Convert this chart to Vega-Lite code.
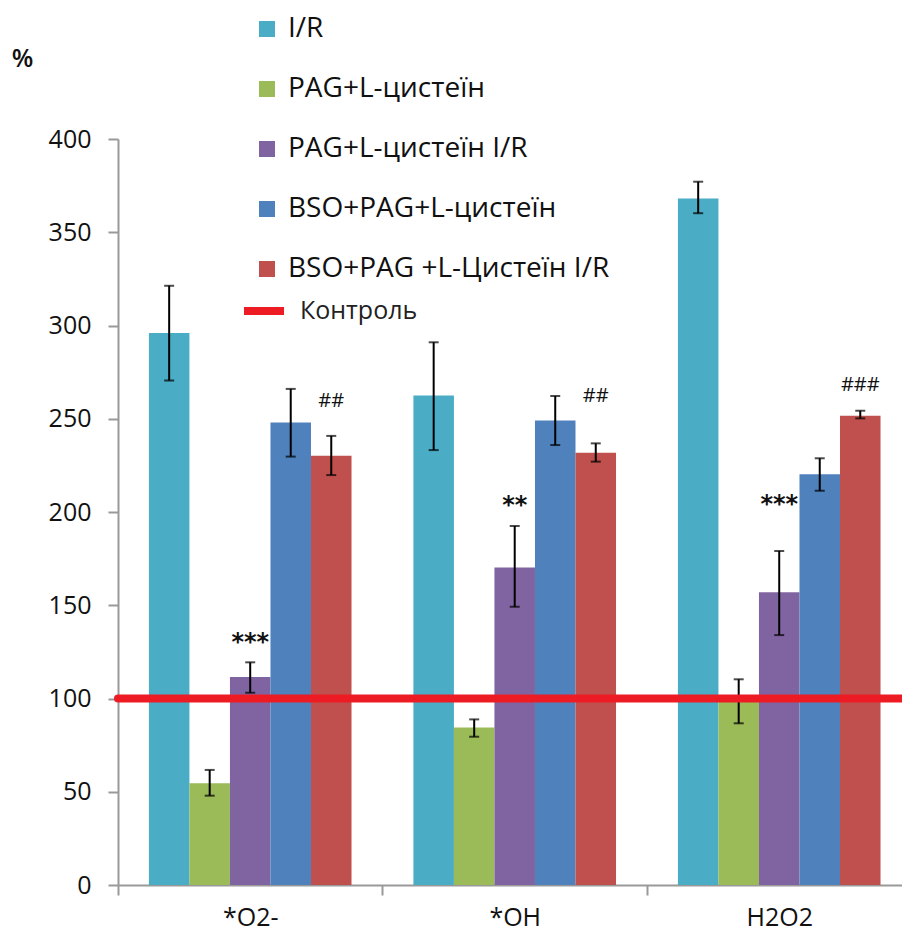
{
  "$schema": "https://vega.github.io/schema/vega-lite/v6.json",
  "width": 784,
  "height": 746,
  "autosize": {"type": "none"},
  "padding": {"left": 118, "top": 139, "right": 0, "bottom": 50},
  "background": "white",
  "config": {
    "view": {"stroke": null},
    "font": "Open Sans",
    "axis": {"labelFont": "Open Sans", "titleFont": "Open Sans"},
    "legend": {"labelFont": "Open Sans"}
  },
  "datasets": {
    "bars": [
      {"cat": "*O2-", "series": "I/R", "value": 296, "lo": 270.5, "hi": 321.3},
      {"cat": "*O2-", "series": "PAG+L-цистеїн", "value": 54.5, "lo": 47.9, "hi": 61.7},
      {"cat": "*O2-", "series": "PAG+L-цистеїн I/R", "value": 111.5, "lo": 103.1, "hi": 119.4},
      {"cat": "*O2-", "series": "BSO+PAG+L-цистеїн", "value": 248, "lo": 229.7, "hi": 266},
      {"cat": "*O2-", "series": "BSO+PAG +L-Цистеїн I/R", "value": 230.2, "lo": 219.8, "hi": 240.8},
      {"cat": "*OH", "series": "I/R", "value": 262.4, "lo": 233.2, "hi": 291},
      {"cat": "*OH", "series": "PAG+L-цистеїн", "value": 84.4, "lo": 79.5, "hi": 88.8},
      {"cat": "*OH", "series": "PAG+L-цистеїн I/R", "value": 170.3, "lo": 149.2, "hi": 192.5},
      {"cat": "*OH", "series": "BSO+PAG+L-цистеїн", "value": 249, "lo": 235.9, "hi": 262.2},
      {"cat": "*OH", "series": "BSO+PAG +L-Цистеїн I/R", "value": 231.8, "lo": 227, "hi": 236.8},
      {"cat": "H2O2", "series": "I/R", "value": 368.1, "lo": 360.2, "hi": 377.1},
      {"cat": "H2O2", "series": "PAG+L-цистеїн", "value": 98.5, "lo": 86.7, "hi": 110.3},
      {"cat": "H2O2", "series": "PAG+L-цистеїн I/R", "value": 157, "lo": 134, "hi": 179.1},
      {"cat": "H2O2", "series": "BSO+PAG+L-цистеїн", "value": 220.2, "lo": 211.4, "hi": 228.8},
      {"cat": "H2O2", "series": "BSO+PAG +L-Цистеїн I/R", "value": 251.6, "lo": 250.2, "hi": 254.3}
    ],
    "notes": [
      {"cat": "*O2-", "series": "PAG+L-цистеїн I/R", "label": "***", "kind": "star", "pos": 130},
      {"cat": "*O2-", "series": "BSO+PAG +L-Цистеїн I/R", "label": "##", "kind": "hash", "pos": 259.5},
      {"cat": "*OH", "series": "PAG+L-цистеїн I/R", "label": "**", "kind": "star", "pos": 203},
      {"cat": "*OH", "series": "BSO+PAG +L-Цистеїн I/R", "label": "##", "kind": "hash", "pos": 262.2},
      {"cat": "H2O2", "series": "PAG+L-цистеїн I/R", "label": "***", "kind": "star", "pos": 204},
      {"cat": "H2O2", "series": "BSO+PAG +L-Цистеїн I/R", "label": "###", "kind": "hash", "pos": 267.9}
    ],
    "control": [{"name": "Контроль", "v": 100}]
  },
  "layer": [
    {
      "data": {"name": "bars"},
      "mark": {"type": "bar"},
      "encoding": {
        "x": {
          "field": "cat", "type": "nominal", "sort": ["*O2-", "*OH", "H2O2"],
          "scale": {"paddingInner": 0.234, "paddingOuter": 0.099, "align": 0.59},
          "axis": {
            "title": null, "labelAngle": 0, "labelFontSize": 25, "labelColor": "#111",
            "labelPadding": 10, "domainColor": "#999", "domainWidth": 2, "tickColor": "#999",
            "tickWidth": 2, "tickSize": 10, "tickBand": "center", "tickOffset": -132.3,
            "labelOffset": 132.3
          }
        },
        "xOffset": {
          "field": "series", "type": "nominal",
          "sort": ["I/R", "PAG+L-цистеїн", "PAG+L-цистеїн I/R", "BSO+PAG+L-цистеїн", "BSO+PAG +L-Цистеїн I/R"],
          "scale": {"paddingInner": 0, "paddingOuter": 0}
        },
        "y": {
          "field": "value", "type": "quantitative",
          "scale": {"domain": [0, 400], "nice": false},
          "axis": {
            "values": [0, 50, 100, 150, 200, 250, 300, 350, 400], "grid": false,
            "labelFontSize": 25, "labelColor": "#111", "labelPadding": 17,
            "domainColor": "#999", "domainWidth": 2, "tickColor": "#999", "tickWidth": 2, "tickSize": 10,
            "title": "%", "titleAngle": 0, "titleX": -96, "titleY": -81, "titleAlign": "center",
            "titleBaseline": "middle", "titleFontSize": 25, "titleFontWeight": 600, "titleColor": "#111"
          }
        },
        "color": {
          "field": "series", "type": "nominal",
          "sort": ["I/R", "PAG+L-цистеїн", "PAG+L-цистеїн I/R", "BSO+PAG+L-цистеїн", "BSO+PAG +L-Цистеїн I/R"],
          "scale": {"range": ["#4BACC6", "#9BBB59", "#8064A2", "#4F81BD", "#C0504D"]},
          "legend": {
            "title": null, "orient": "none", "legendX": 135, "legendY": -124, "padding": 0,
            "symbolType": "square", "symbolSize": 256, "symbolStrokeWidth": 0, "symbolOpacity": 1,
            "labelFontSize": 28, "labelColor": "#111", "labelOffset": 7, "rowPadding": 32,
            "labelLimit": 600
          }
        }
      }
    },
    {
      "data": {"name": "bars"},
      "mark": {"type": "rule", "color": "#000", "strokeWidth": 2},
      "encoding": {
        "x": {"field": "cat", "type": "nominal", "sort": ["*O2-", "*OH", "H2O2"]},
        "xOffset": {"field": "series", "type": "nominal", "sort": ["I/R", "PAG+L-цистеїн", "PAG+L-цистеїн I/R", "BSO+PAG+L-цистеїн", "BSO+PAG +L-Цистеїн I/R"]},
        "y": {"field": "lo", "type": "quantitative"},
        "y2": {"field": "hi"}
      }
    },
    {
      "data": {"name": "bars"},
      "mark": {"type": "tick", "color": "#000", "thickness": 2, "size": 10, "orient": "horizontal"},
      "encoding": {
        "x": {"field": "cat", "type": "nominal", "sort": ["*O2-", "*OH", "H2O2"]},
        "xOffset": {"field": "series", "type": "nominal", "sort": ["I/R", "PAG+L-цистеїн", "PAG+L-цистеїн I/R", "BSO+PAG+L-цистеїн", "BSO+PAG +L-Цистеїн I/R"]},
        "y": {"field": "lo", "type": "quantitative"}
      }
    },
    {
      "data": {"name": "bars"},
      "mark": {"type": "tick", "color": "#000", "thickness": 2, "size": 10, "orient": "horizontal"},
      "encoding": {
        "x": {"field": "cat", "type": "nominal", "sort": ["*O2-", "*OH", "H2O2"]},
        "xOffset": {"field": "series", "type": "nominal", "sort": ["I/R", "PAG+L-цистеїн", "PAG+L-цистеїн I/R", "BSO+PAG+L-цистеїн", "BSO+PAG +L-Цистеїн I/R"]},
        "y": {"field": "hi", "type": "quantitative"}
      }
    },
    {
      "data": {"name": "notes"},
      "transform": [{"filter": "datum.kind === 'star'"}],
      "mark": {"type": "text", "fontSize": 24, "fontWeight": "bold", "color": "#111", "baseline": "middle", "align": "center", "font": "DejaVu Sans"},
      "encoding": {
        "x": {"field": "cat", "type": "nominal", "sort": ["*O2-", "*OH", "H2O2"]},
        "xOffset": {"field": "series", "type": "nominal", "sort": ["I/R", "PAG+L-цистеїн", "PAG+L-цистеїн I/R", "BSO+PAG+L-цистеїн", "BSO+PAG +L-Цистеїн I/R"]},
        "y": {"field": "pos", "type": "quantitative"},
        "text": {"field": "label"}
      }
    },
    {
      "data": {"name": "notes"},
      "transform": [{"filter": "datum.kind === 'hash'"}],
      "mark": {"type": "text", "fontSize": 20, "color": "#111", "baseline": "middle", "align": "center"},
      "encoding": {
        "x": {"field": "cat", "type": "nominal", "sort": ["*O2-", "*OH", "H2O2"]},
        "xOffset": {"field": "series", "type": "nominal", "sort": ["I/R", "PAG+L-цистеїн", "PAG+L-цистеїн I/R", "BSO+PAG+L-цистеїн", "BSO+PAG +L-Цистеїн I/R"]},
        "y": {"field": "pos", "type": "quantitative"},
        "text": {"field": "label"}
      }
    },
    {
      "data": {"name": "control"},
      "mark": {"type": "rule", "strokeWidth": 8, "strokeCap": "round"},
      "encoding": {
        "y": {"field": "v", "type": "quantitative"},
        "stroke": {
          "field": "name", "type": "nominal",
          "scale": {"range": ["#ED1C24"]},
          "legend": {
            "title": null, "orient": "none", "legendX": 122, "legendY": 148, "padding": 0,
            "symbolType": "stroke", "symbolSize": 1600, "symbolStrokeWidth": 8,
            "labelFontSize": 25, "labelColor": "#222", "labelOffset": 12, "labelFont": "Open Sans"
          }
        }
      }
    }
  ]
}
